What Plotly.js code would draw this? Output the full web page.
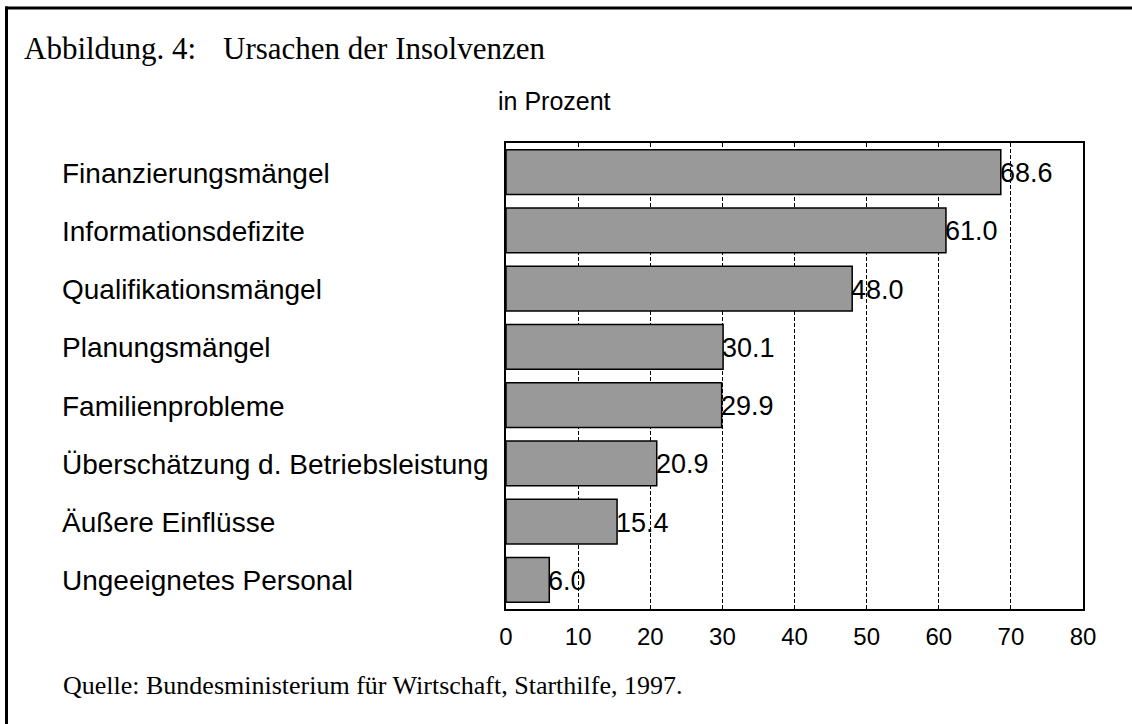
<!DOCTYPE html>
<html>
<head>
<meta charset="utf-8">
<script src="https://cdn.plot.ly/plotly-3.0.1.min.js"></script>
<style>html,body{margin:0;padding:0;background:#fff;}#chart{width:1132px;height:724px;}</style>
</head>
<body>
<div id="chart"></div>
<script>
const categories = [
  "Finanzierungsmängel",
  "Informationsdefizite",
  "Qualifikationsmängel",
  "Planungsmängel",
  "Familienprobleme",
  "Überschätzung d. Betriebsleistung",
  "Äußere Einflüsse",
  "Ungeeignetes Personal"
];
const values = [68.6, 61.0, 48.0, 30.1, 29.9, 20.9, 15.4, 6.0];
const valueLabels = ["68.6", "61.0", "48.0", "30.1", "29.9", "20.9", "15.4", "6.0"];
const xTicks = [0, 10, 20, 30, 40, 50, 60, 70, 80];
const titleLeft = "Abbildung. 4:";
const titleRight = "Ursachen der Insolvenzen";
const unitText = "in Prozent";
const sourceText = "Quelle: Bundesministerium für Wirtschaft, Starthilfe, 1997.";

const W = 1132, H = 724;
const L = 506, R = 1083, T = 143, B = 609;
const px = v => (v - L) / (R - L);
const py = v => (B - v) / (B - T);

const sans = "Liberation Sans, Arial, sans-serif";
const serif = "Liberation Serif, Times New Roman, serif";

const annotations = [];
categories.forEach((c, i) => {
  annotations.push({
    xref: "paper", yref: "y", x: px(60), y: c, text: c,
    xanchor: "left", yanchor: "middle", showarrow: false, yshift: -1,
    font: {family: sans, size: 28, color: "#000"}
  });
  annotations.push({
    xref: "x", yref: "y", x: values[i], y: c, text: valueLabels[i],
    xanchor: "left", yanchor: "middle", showarrow: false, xshift: -3, yshift: -1,
    font: {family: sans, size: 27, color: "#000"}
  });
});
annotations.push({xref: "paper", yref: "paper", x: px(22), y: py(49), text: titleLeft,
  xanchor: "left", yanchor: "middle", showarrow: false, font: {family: serif, size: 31, color: "#000"}});
annotations.push({xref: "paper", yref: "paper", x: px(221), y: py(49), text: titleRight,
  xanchor: "left", yanchor: "middle", showarrow: false, font: {family: serif, size: 31, color: "#000"}});
annotations.push({xref: "paper", yref: "paper", x: px(496), y: py(101), text: unitText,
  xanchor: "left", yanchor: "middle", showarrow: false, font: {family: sans, size: 25, color: "#000"}});
annotations.push({xref: "paper", yref: "paper", x: px(61), y: py(685), text: sourceText,
  xanchor: "left", yanchor: "middle", showarrow: false, font: {family: serif, size: 26, color: "#000"}});

const shapes = [
  {type: "line", xref: "paper", yref: "paper", x0: px(6.5), x1: px(6.5), y0: py(6.5), y1: py(740), line: {color: "#000", width: 3}},
  {type: "line", xref: "paper", yref: "paper", x0: px(5), x1: px(1140), y0: py(8), y1: py(8), line: {color: "#000", width: 3}}
];

const trace = {
  type: "bar", orientation: "h", x: values, y: categories,
  marker: {color: "#999999", line: {color: "#000", width: 1.5}},
  hoverinfo: "skip"
};

const layout = {
  width: W, height: H,
  margin: {l: L, r: W - R, t: T, b: H - B, pad: 0},
  paper_bgcolor: "#fff", plot_bgcolor: "#fff",
  showlegend: false,
  bargap: 0.236,
  xaxis: {
    range: [0, 80], tickvals: xTicks, ticktext: xTicks.map(String), ticks: "",
    showgrid: true, gridcolor: "#000", gridwidth: 1, griddash: "4px,2px",
    showline: true, mirror: true, linecolor: "#000", linewidth: 2,
    zeroline: false, tickfont: {family: sans, size: 24, color: "#000"}, ticklabelstandoff: 5
  },
  yaxis: {
    type: "category", autorange: "reversed", showticklabels: false, ticks: "",
    showgrid: false, showline: true, mirror: true, linecolor: "#000", linewidth: 2, zeroline: false
  },
  annotations: annotations,
  shapes: shapes
};

Plotly.newPlot("chart", [trace], layout, {staticPlot: true, displayModeBar: false});
</script>
</body>
</html>
